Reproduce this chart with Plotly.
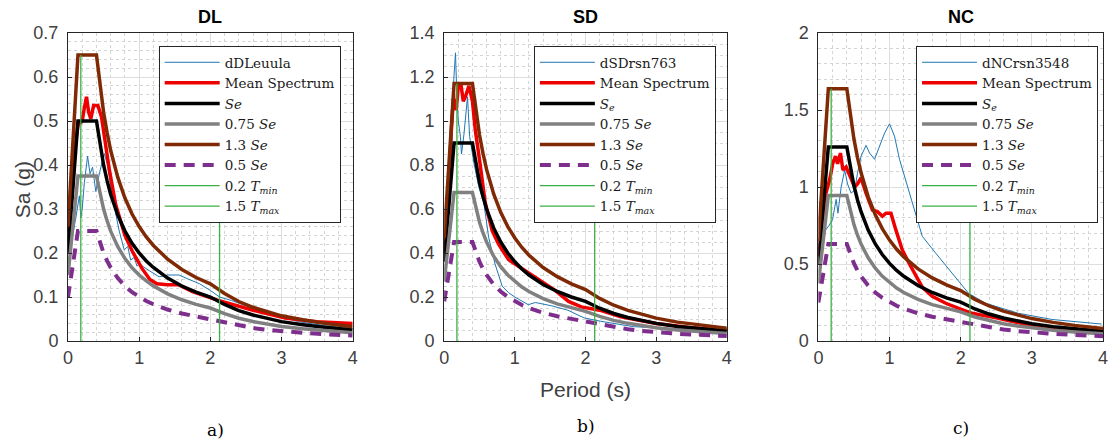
import plotly.graph_objects as go

# ---------------- data ----------------
PANELS = ["DL", "SD", "NC"]
PANEL_TAGS = ["a)", "b)", "c)"]
RECORD_NAMES = ["dDLeuula", "dSDrsn763", "dNCrsn3548"]
SE_LABELS = ["<i>Se</i>", "<i>S</i><sub><i>e</i></sub>", "<i>S</i><sub><i>e</i></sub>"]
Y_MAX = [0.7, 1.4, 2.0]
Y_DTICK = [0.1, 0.2, 0.5]
Y_MINOR = [0.02, 0.05, 0.1]

# code spectrum periods (s) and elastic spectrum Se (g) per panel
PERIOD_CODE = [0, 0.14, 0.4, 0.45, 0.5, 0.55, 0.6, 0.7, 0.8, 0.9, 1.0, 1.1, 1.2, 1.4,
               1.6, 1.8, 2.0, 2.2, 2.4, 2.6, 2.8, 3.0, 3.3, 3.6, 4.0]
SE_DL = [0.2, 0.5, 0.5, 0.444, 0.4, 0.364, 0.333, 0.286, 0.25, 0.222, 0.2, 0.182, 0.167,
         0.143, 0.125, 0.111, 0.1, 0.083, 0.069, 0.059, 0.051, 0.044, 0.037, 0.031, 0.025]
SE_SD = [0.36, 0.9, 0.9, 0.8, 0.72, 0.655, 0.6, 0.514, 0.45, 0.4, 0.36, 0.327, 0.3,
         0.257, 0.225, 0.2, 0.18, 0.149, 0.125, 0.107, 0.092, 0.08, 0.066, 0.056, 0.045]
SE_NC = [0.5, 1.26, 1.26, 1.12, 1.008, 0.916, 0.84, 0.72, 0.63, 0.56, 0.504, 0.458, 0.42,
         0.36, 0.315, 0.28, 0.252, 0.208, 0.175, 0.149, 0.129, 0.112, 0.093, 0.078, 0.063]

# multiples of Se shown in the legend
SCALE_FACTORS = [0.75, 1.3, 0.5]
SCALE_LABELS = ["0.75 <i>Se</i>", "1.3 <i>Se</i>", "0.5 <i>Se</i>"]

# vertical limit lines (s)
T_LIMITS = [0.18, 2.13]
T_LIMIT_LABELS = ["0.2 <i>T</i><sub><i>min</i></sub>", "1.5 <i>T</i><sub><i>max</i></sub>"]

# single record spectra
REC_T_DL = [0, 0.03, 0.065, 0.11, 0.16, 0.18, 0.2, 0.23, 0.275, 0.31, 0.345, 0.39, 0.44,
            0.51, 0.555, 0.62, 0.72, 0.79, 0.84, 0.88, 0.93, 0.97, 1.0, 1.14, 1.28, 1.4,
            1.56, 1.7, 1.85, 2.0, 2.13, 2.3, 2.5, 2.78, 3.0, 3.24, 3.6, 4.0]
REC_SA_DL = [0.15, 0.19, 0.24, 0.28, 0.33, 0.28, 0.3, 0.36, 0.42, 0.38, 0.395, 0.34, 0.38,
             0.426, 0.40, 0.33, 0.25, 0.207, 0.215, 0.184, 0.19, 0.17, 0.175, 0.16, 0.146,
             0.15, 0.15, 0.14, 0.13, 0.115, 0.1, 0.092, 0.08, 0.063, 0.055, 0.044, 0.035, 0.029]
REC_T_SD = [0, 0.05, 0.09, 0.12, 0.136, 0.16, 0.18, 0.2, 0.23, 0.245, 0.28, 0.31, 0.33,
            0.36, 0.42, 0.49, 0.56, 0.63, 0.72, 0.82, 0.91, 1.0, 1.1, 1.19, 1.29, 1.38,
            1.52, 1.75, 1.98, 2.21, 2.68, 3.15, 3.6, 4.0]
REC_SA_SD = [0.4, 0.55, 0.8, 1.0, 1.19, 1.31, 1.11, 1.0, 0.93, 0.85, 0.94, 1.05, 1.11,
             0.93, 0.81, 0.7, 0.63, 0.47, 0.35, 0.25, 0.22, 0.2, 0.18, 0.165, 0.175, 0.17,
             0.16, 0.14, 0.105, 0.09, 0.065, 0.058, 0.052, 0.048]
REC_T_NC = [0, 0.05, 0.1, 0.15, 0.2, 0.25, 0.275, 0.32, 0.37, 0.41, 0.46, 0.51, 0.55, 0.6,
            0.67, 0.72, 0.79, 0.86, 0.93, 1.0, 1.07, 1.14, 1.21, 1.3, 1.37, 1.46, 1.65,
            1.88, 2.11, 2.35, 2.81, 3.28, 3.98]
REC_SA_NC = [0.55, 0.6, 0.72, 0.75, 0.79, 0.92, 0.83, 1.0, 1.11, 1.02, 0.96, 0.98, 1.09,
             1.2, 1.27, 1.22, 1.18, 1.27, 1.35, 1.41, 1.33, 1.18, 1.07, 0.93, 0.83, 0.68,
             0.57, 0.44, 0.31, 0.245, 0.18, 0.14, 0.11]

# mean spectra
MEAN_T_DL = [0, 0.05, 0.1, 0.14, 0.2, 0.23, 0.26, 0.29, 0.32, 0.36, 0.42, 0.47, 0.52, 0.58,
             0.67, 0.74, 0.8, 0.9, 1.04, 1.15, 1.25, 1.4, 1.55, 1.75, 2.1, 2.6, 3.05, 3.5, 4.0]
MEAN_SA_DL = [0.2, 0.32, 0.44, 0.49, 0.5, 0.53, 0.555, 0.52, 0.505, 0.535, 0.535, 0.51,
              0.45, 0.39, 0.31, 0.27, 0.24, 0.205, 0.165, 0.14, 0.13, 0.128, 0.128, 0.112,
              0.093, 0.07, 0.052, 0.044, 0.04]
MEAN_T_SD = [0, 0.05, 0.1, 0.13, 0.17, 0.2, 0.24, 0.27, 0.3, 0.35, 0.4, 0.44, 0.51, 0.58,
             0.68, 0.77, 0.91, 1.05, 1.24, 1.38, 1.57, 1.76, 1.94, 2.2, 2.5, 3.0, 3.5, 4.0]
MEAN_SA_SD = [0.4, 0.6, 0.95, 1.1, 1.05, 1.16, 1.16, 1.09, 1.11, 1.16, 1.09, 0.96, 0.8,
              0.63, 0.5, 0.44, 0.37, 0.34, 0.3, 0.27, 0.23, 0.18, 0.155, 0.14, 0.11, 0.08,
              0.06, 0.05]
MEAN_T_NC = [0, 0.05, 0.1, 0.16, 0.2, 0.24, 0.27, 0.31, 0.345, 0.39, 0.44, 0.51, 0.55, 0.6,
             0.67, 0.76, 0.83, 0.9, 0.95, 1.02, 1.09, 1.18, 1.28, 1.37, 1.46, 1.6, 1.79,
             1.98, 2.16, 2.5, 3.0, 3.5, 4.0]
MEAN_SA_NC = [0.55, 0.75, 0.95, 1.05, 1.15, 1.2, 1.15, 1.22, 1.11, 1.13, 1.07, 1.0, 1.02,
              1.06, 0.96, 0.85, 0.84, 0.81, 0.83, 0.83, 0.72, 0.59, 0.5, 0.42, 0.35, 0.29,
              0.245, 0.21, 0.18, 0.15, 0.1, 0.08, 0.06]

SE_ALL = [SE_DL, SE_SD, SE_NC]
REC_T = [REC_T_DL, REC_T_SD, REC_T_NC]
REC_SA = [REC_SA_DL, REC_SA_SD, REC_SA_NC]
MEAN_T = [MEAN_T_DL, MEAN_T_SD, MEAN_T_NC]
MEAN_SA = [MEAN_SA_DL, MEAN_SA_SD, MEAN_SA_NC]

# ---------------- styling ----------------
W, H = 1110, 441
ML, MR, MT, MB = 68, 2, 33, 100
PW, PH = W - ML - MR, H - MT - MB
PANEL_PX = [(68, 354), (446, 730), (822, 1108)]
LEGEND_RIGHT_PX = [342, 719, 1103]
LEGEND_TOP_PX = 46

C_REC = "#1f77b4"
C_MEAN = "#ee0000"
C_SE = "#000000"
C_075 = "#808080"
C_13 = "#7f2a05"
C_05 = "#7e2f8e"
C_LIM = "#3cb043"

SERIF = "DejaVu Serif"
SANS = "Liberation Sans, Arial, sans-serif"
TICK_COLOR = "#404040"

def px2x(p):
    return (p - ML) / PW

def px2y(p):
    return (H - MB - p) / PH

fig = go.Figure()

for i, name in enumerate(PANELS):
    ax = "" if i == 0 else str(i + 1)
    xa, ya = "x" + ax, "y" + ax
    lg = "legend" if i == 0 else "legend" + str(i + 1)
    se = SE_ALL[i]
    common = dict(xaxis=xa, yaxis=ya, legend=lg, mode="lines")

    fig.add_trace(go.Scatter(x=REC_T[i], y=REC_SA[i], name=RECORD_NAMES[i],
                             line=dict(color=C_REC, width=1), **common))
    fig.add_trace(go.Scatter(x=MEAN_T[i], y=MEAN_SA[i], name="Mean Spectrum",
                             line=dict(color=C_MEAN, width=3.5), **common))
    fig.add_trace(go.Scatter(x=PERIOD_CODE, y=se, name=SE_LABELS[i],
                             line=dict(color=C_SE, width=3.5), **common))
    styles = [dict(color=C_075, width=3.5), dict(color=C_13, width=3.5),
              dict(color=C_05, width=4, dash="11px,8px")]
    top = 0
    for f, lab, st in zip(SCALE_FACTORS, SCALE_LABELS, styles):
        vals = [f * v for v in se]
        top = max(top, max(vals))
        fig.add_trace(go.Scatter(x=PERIOD_CODE, y=vals, name=lab, line=st, **common))
    for t, lab in zip(T_LIMITS, T_LIMIT_LABELS):
        fig.add_trace(go.Scatter(x=[t, t], y=[0, top], name=lab,
                                 line=dict(color=C_LIM, width=1.3), **common))

    x0, x1 = PANEL_PX[i]
    axis_common = dict(showline=True, linecolor="#262626", linewidth=1, mirror=True,
                       ticks="inside", ticklen=4, tickcolor="#262626",
                       tickfont=dict(family=SANS, size=18, color=TICK_COLOR),
                       showgrid=True, gridcolor="#dedede", gridwidth=1, zeroline=False)
    fig.layout["xaxis" + ax] = dict(domain=[px2x(x0), px2x(x1)], anchor=ya, range=[0, 4],
                                    dtick=1, tick0=0,
                                    minor=dict(dtick=0.2, showgrid=True, gridcolor="#d4d4d4",
                                               griddash="dot", ticks=""),
                                    **axis_common)
    fig.layout["yaxis" + ax] = dict(domain=[0, 1], anchor=xa, range=[0, Y_MAX[i]],
                                    dtick=Y_DTICK[i], tick0=0, ticklabelstandoff=5,
                                    minor=dict(dtick=Y_MINOR[i], showgrid=True,
                                               gridcolor="#d4d4d4", griddash="dot", ticks=""),
                                    **axis_common)
    fig.layout[lg] = dict(x=px2x(LEGEND_RIGHT_PX[i]), y=px2y(LEGEND_TOP_PX),
                          xanchor="right", yanchor="top", bgcolor="white",
                          bordercolor="#262626", borderwidth=1,
                          font=dict(family=SERIF, size=13.5, color="#1a1a1a"),
                          itemwidth=55, tracegroupgap=0)

    cx = (x0 + x1) / 2
    fig.add_annotation(text="<b>" + name + "</b>", x=px2x(cx), y=px2y(17), xref="paper",
                       yref="paper", showarrow=False, xanchor="center", yanchor="middle",
                       font=dict(family=SANS, size=18, color="#000"))

for tag, (xp, yp) in zip(PANEL_TAGS, [(216, 430), (588, 426), (965, 428)]):
    fig.add_annotation(text=tag, x=px2x(xp), y=px2y(yp), xref="paper", yref="paper",
                       showarrow=False, xanchor="center", yanchor="middle",
                       font=dict(family=SERIF, size=17, color="#000"))

fig.add_annotation(text="Sa (g)", x=px2x(22), y=px2y(190), xref="paper", yref="paper",
                   showarrow=False, textangle=-90, xanchor="center", yanchor="middle",
                   font=dict(family=SANS, size=21, color=TICK_COLOR))
fig.add_annotation(text="Period (s)", x=px2x(588), y=px2y(389), xref="paper", yref="paper",
                   showarrow=False, xanchor="center", yanchor="middle",
                   font=dict(family=SANS, size=21, color=TICK_COLOR))

fig.update_layout(width=W, height=H, margin=dict(l=ML, r=MR, t=MT, b=MB),
                  paper_bgcolor="white", plot_bgcolor="white", showlegend=True)

fig.write_html("out.html")
